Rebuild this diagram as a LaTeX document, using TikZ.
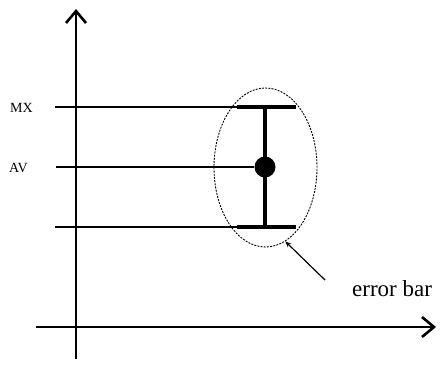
\documentclass[tikz,border=0pt]{standalone}
\usepackage{fontspec}
\setmainfont{Liberation Serif}
\usetikzlibrary{arrows.meta,shapes.geometric}
\begin{document}
\begin{tikzpicture}[x=1pt,y=-1pt,
  axis/.style={line width=2.2pt,-{Straight Barb[length=12pt,width=20pt,line width=2.6pt]}},
  guide/.style={line width=1.6pt},
  bar/.style={line width=3.6pt},
  lbl/.style={font=\fontsize{14}{14}\selectfont,inner sep=0pt},
]
\useasboundingbox (0,0) rectangle (441,364);
% axes
\coordinate (yb) at (76,359);
\coordinate (yt) at (76,9);
\coordinate (xl) at (36,327);
\coordinate (xr) at (436,327);
\draw[axis] (yb) -- (yt);
\draw[axis] (xl) -- (xr);
% guide lines
\coordinate (mxl) at (55,107);
\coordinate (mxr) at (296,107);
\coordinate (avl) at (56,167);
\coordinate (mnl) at (55,227);
\coordinate (mnr) at (296,227);
\draw[guide] (mxl) -- (mxr);
\draw[guide] (mnl) -- (mnr);
% error bar
\coordinate (capTl) at (237,107);
\coordinate (capBl) at (237,227);
\coordinate (barT) at (265,107);
\coordinate (barB) at (265,227);
\draw[bar] (capTl) -- (mxr);
\draw[bar] (capBl) -- (mnr);
\draw[bar] (barT) -- (barB);
\node[circle,fill=black,inner sep=0pt,minimum size=21pt] (av) at (265,167) {};
\draw[guide] (avl) -- (av);
% ellipse
\node[draw,dash pattern=on 2pt off 1.2pt,line width=0.9pt,ellipse,minimum width=103pt,minimum height=159pt,inner sep=0pt] (ell) at (265.5,167.5) {};
% labels
\node[lbl,anchor=west] (mx) at (10,107.5) {MX};
\node[lbl,anchor=west] (avt) at (9,167.5) {AV};
\node[font=\fontsize{23}{23}\selectfont,inner sep=0pt,anchor=base west] (eb) at (352,296) {error bar};
\coordinate (ps) at (325,280);
\draw[line width=1.2pt,-{Stealth[length=6pt,width=5pt]}] (ps) -- (ell.-75);
\end{tikzpicture}
\end{document}
